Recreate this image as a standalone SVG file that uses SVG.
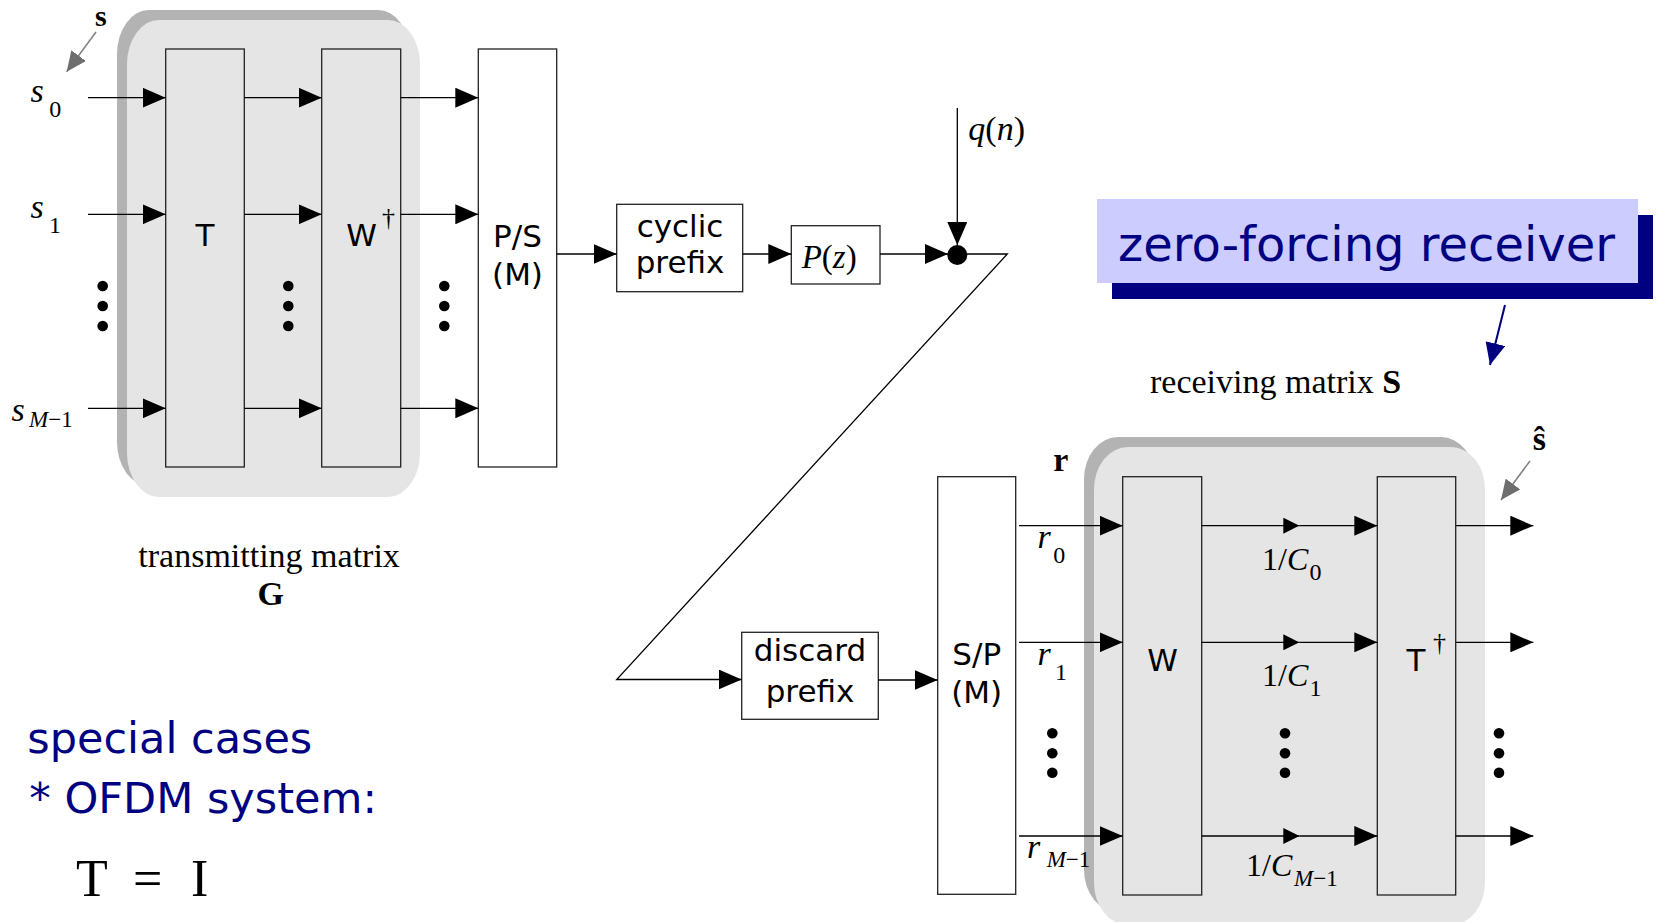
<svg xmlns="http://www.w3.org/2000/svg" width="1656" height="922" viewBox="0 0 1656 922">
<defs>
<style>
.shadow{fill:#b3b3b3}
.panel{fill:#e5e5e5}
.blk{fill:#e5e5e5;stroke:#222;stroke-width:1.3}
.wbox{fill:#fff;stroke:#222;stroke-width:1.3}
.ln{fill:none;stroke:#000;stroke-width:1.3}
.gln{fill:none;stroke:#808080;stroke-width:1.5}
.nln{fill:none;stroke:#000080;stroke-width:2}
.sans{font-family:"DejaVu Sans",sans-serif;font-size:31px;fill:#000}
.ser{font-family:"Liberation Serif",serif;fill:#000}
.lbl{font-size:34px;font-style:italic}
.sub{font-size:24px}
.subi{font-size:23px;font-style:italic}
.bold{font-weight:bold;font-size:34px}
.dag{font-size:26px}
.blue{font-family:"DejaVu Sans",sans-serif;fill:#000080}
.dot{fill:#000}
</style>
<marker id="ah" markerUnits="userSpaceOnUse" markerWidth="24" markerHeight="20" refX="23" refY="10" orient="auto"><path d="M0,0 L23,10 L0,20 z" fill="#000"/></marker>
<marker id="ahs" markerUnits="userSpaceOnUse" markerWidth="16" markerHeight="16" refX="16" refY="8" orient="auto"><path d="M0,0 L16,8 L0,16 z" fill="#000"/></marker>
<marker id="ahg" markerUnits="userSpaceOnUse" markerWidth="20" markerHeight="18" refX="20" refY="9" orient="auto"><path d="M0,0 L20,9 L0,18 z" fill="#6e6e6e"/></marker>
<marker id="ahn" markerUnits="userSpaceOnUse" markerWidth="22" markerHeight="20" refX="22" refY="10" orient="auto"><path d="M0,0 L22,10 L0,20 z" fill="#000080"/></marker>
</defs>
<rect width="1656" height="922" fill="#fff"/>

<g id="tx-matrix">
<rect class="shadow" x="117" y="10" width="293" height="476" rx="32" ry="44"/>
<rect class="panel" x="127" y="20" width="293" height="477" rx="32" ry="44"/>
</g>
<g id="rx-matrix">
<rect class="shadow" x="1084" y="437" width="391" height="475" rx="34" ry="42"/>
<rect class="panel" x="1094" y="447" width="391" height="478" rx="34" ry="42"/>
</g>

<g id="title">
<rect x="1112" y="215" width="541" height="84" fill="#000080"/>
<rect x="1097" y="199" width="541" height="84" fill="#ccccff"/>
<text class="blue" x="1118" y="261" font-size="48" textLength="497" lengthAdjust="spacingAndGlyphs">zero-forcing receiver</text>
</g>

<g id="node-T"><rect class="blk" x="165.7" y="49" width="78.6" height="418"/><text class="sans" x="205" y="246" text-anchor="middle">T</text></g>
<g id="node-Wdag"><rect class="blk" x="321.7" y="49" width="79" height="418"/><text class="sans" x="361.7" y="246" text-anchor="middle">W</text><text class="ser dag" x="382" y="226">†</text></g>
<g id="node-PS"><rect class="wbox" x="478.3" y="49" width="78.4" height="418"/><text class="sans" x="517.5" y="246.5" text-anchor="middle">P/S</text><text class="sans" x="517.5" y="285" text-anchor="middle">(M)</text></g>
<g id="node-cyclic"><rect class="wbox" x="616.7" y="204.3" width="126" height="87.4"/><text class="sans" x="680" y="236.7" text-anchor="middle">cyclic</text><text class="sans" x="680" y="273.3" text-anchor="middle">prefix</text></g>
<g id="node-Pz"><rect class="wbox" x="791.3" y="225.7" width="88.7" height="58.3"/><text class="ser" font-size="33" x="801.7" y="268.3"><tspan font-style="italic">P</tspan>(<tspan font-style="italic">z</tspan>)</text></g>
<g id="node-sum"><circle class="dot" cx="957.3" cy="255" r="10"/></g>
<g id="node-discard"><rect class="wbox" x="741.7" y="632.3" width="136.6" height="87"/><text class="sans" x="810" y="660.7" text-anchor="middle">discard</text><text class="sans" x="810" y="701.7" text-anchor="middle">prefix</text></g>
<g id="node-SP"><rect class="wbox" x="937.7" y="476.7" width="78" height="417.6"/><text class="sans" x="976.7" y="665" text-anchor="middle">S/P</text><text class="sans" x="976.7" y="703" text-anchor="middle">(M)</text></g>
<g id="node-W"><rect class="blk" x="1122.7" y="476.7" width="79" height="418.3"/><text class="sans" x="1162.7" y="670.7" text-anchor="middle">W</text></g>
<g id="node-Tdag"><rect class="blk" x="1377.3" y="476.7" width="78.4" height="418.3"/><text class="sans" x="1416" y="670.7" text-anchor="middle">T</text><text class="ser dag" x="1433" y="651">†</text></g>

<g id="connectors">
<line class="ln" x1="88" y1="97.7" x2="165.7" y2="97.7" marker-end="url(#ah)"/>
<line class="ln" x1="88" y1="214.3" x2="165.7" y2="214.3" marker-end="url(#ah)"/>
<line class="ln" x1="88" y1="408.3" x2="165.7" y2="408.3" marker-end="url(#ah)"/>
<line class="ln" x1="244.3" y1="97.7" x2="321.7" y2="97.7" marker-end="url(#ah)"/>
<line class="ln" x1="244.3" y1="214.3" x2="321.7" y2="214.3" marker-end="url(#ah)"/>
<line class="ln" x1="244.3" y1="408.3" x2="321.7" y2="408.3" marker-end="url(#ah)"/>
<line class="ln" x1="400.7" y1="97.7" x2="478.3" y2="97.7" marker-end="url(#ah)"/>
<line class="ln" x1="400.7" y1="214.3" x2="478.3" y2="214.3" marker-end="url(#ah)"/>
<line class="ln" x1="400.7" y1="408.3" x2="478.3" y2="408.3" marker-end="url(#ah)"/>
<line class="ln" x1="556.7" y1="254" x2="616.7" y2="254" marker-end="url(#ah)"/>
<line class="ln" x1="742.7" y1="254" x2="791.3" y2="254" marker-end="url(#ah)"/>
<line class="ln" x1="880" y1="254" x2="948" y2="254" marker-end="url(#ah)"/>
<line class="ln" x1="957.3" y1="108" x2="957.3" y2="245" marker-end="url(#ah)"/>
<polyline class="ln" points="957.3,254 1007.3,254 616.7,679.5 741.7,679.5" marker-end="url(#ah)"/>
<line class="ln" x1="878.3" y1="680" x2="937.7" y2="680" marker-end="url(#ah)"/>
<line class="ln" x1="1019" y1="525.7" x2="1122.7" y2="525.7" marker-end="url(#ah)"/>
<line class="ln" x1="1019" y1="642.3" x2="1122.7" y2="642.3" marker-end="url(#ah)"/>
<line class="ln" x1="1019" y1="836" x2="1122.7" y2="836" marker-end="url(#ah)"/>
<line class="ln" x1="1201.7" y1="525.7" x2="1299.3" y2="525.7" marker-end="url(#ahs)"/>
<line class="ln" x1="1201.7" y1="642.3" x2="1299.3" y2="642.3" marker-end="url(#ahs)"/>
<line class="ln" x1="1201.7" y1="836" x2="1299.3" y2="836" marker-end="url(#ahs)"/>
<line class="ln" x1="1299.3" y1="525.7" x2="1377.3" y2="525.7" marker-end="url(#ah)"/>
<line class="ln" x1="1299.3" y1="642.3" x2="1377.3" y2="642.3" marker-end="url(#ah)"/>
<line class="ln" x1="1299.3" y1="836" x2="1377.3" y2="836" marker-end="url(#ah)"/>
<line class="ln" x1="1455.7" y1="525.7" x2="1533.3" y2="525.7" marker-end="url(#ah)"/>
<line class="ln" x1="1455.7" y1="642.3" x2="1533.3" y2="642.3" marker-end="url(#ah)"/>
<line class="ln" x1="1455.7" y1="836" x2="1533.3" y2="836" marker-end="url(#ah)"/>
<line class="gln" x1="96" y1="32" x2="66.7" y2="71.7" marker-end="url(#ahg)"/>
<line class="gln" x1="1530" y1="461" x2="1501" y2="500" marker-end="url(#ahg)"/>
<line class="nln" x1="1505" y1="305" x2="1490" y2="365" marker-end="url(#ahn)"/>
</g>

<g id="ellipses">
<circle class="dot" cx="102.7" cy="286" r="5.3"/><circle class="dot" cx="102.7" cy="306" r="5.3"/><circle class="dot" cx="102.7" cy="326" r="5.3"/>
<circle class="dot" cx="288.3" cy="286" r="5.3"/><circle class="dot" cx="288.3" cy="306" r="5.3"/><circle class="dot" cx="288.3" cy="326" r="5.3"/>
<circle class="dot" cx="444.3" cy="286" r="5.3"/><circle class="dot" cx="444.3" cy="306" r="5.3"/><circle class="dot" cx="444.3" cy="326" r="5.3"/>
<circle class="dot" cx="1052.3" cy="733.3" r="5.3"/><circle class="dot" cx="1052.3" cy="753.3" r="5.3"/><circle class="dot" cx="1052.3" cy="772.7" r="5.3"/>
<circle class="dot" cx="1285" cy="733.3" r="5.3"/><circle class="dot" cx="1285" cy="753.3" r="5.3"/><circle class="dot" cx="1285" cy="772.7" r="5.3"/>
<circle class="dot" cx="1499" cy="733.3" r="5.3"/><circle class="dot" cx="1499" cy="753.3" r="5.3"/><circle class="dot" cx="1499" cy="772.7" r="5.3"/>
</g>

<g id="labels">
<text class="ser" font-weight="bold" font-size="30" x="95" y="26">s</text>
<text class="ser lbl" x="30.5" y="101.7">s</text><text class="ser sub" x="49.3" y="117.3">0</text>
<text class="ser lbl" x="30.5" y="218.3">s</text><text class="ser sub" x="49" y="233.3">1</text>
<text class="ser lbl" x="11.5" y="420.7">s</text><text class="ser subi" x="29" y="427.3">M<tspan font-style="normal">−1</tspan></text>
<text class="ser lbl" x="968.3" y="140"><tspan>q</tspan><tspan font-style="normal">(</tspan>n<tspan font-style="normal">)</tspan></text>
<text class="ser bold" x="1053.3" y="471">r</text>
<text class="ser lbl" x="1037.5" y="548">r</text><text class="ser sub" x="1053.3" y="563">0</text>
<text class="ser lbl" x="1037.5" y="665">r</text><text class="ser sub" x="1055" y="680">1</text>
<text class="ser lbl" x="1027" y="858">r</text><text class="ser subi" x="1046.7" y="867">M<tspan font-style="normal">−1</tspan></text>
<text class="ser" font-size="32" x="1262" y="570">1/<tspan font-style="italic">C</tspan></text><text class="ser sub" x="1309.5" y="580">0</text>
<text class="ser" font-size="32" x="1262" y="686">1/<tspan font-style="italic">C</tspan></text><text class="ser sub" x="1309.5" y="696">1</text>
<text class="ser" font-size="32" x="1246" y="876">1/<tspan font-style="italic">C</tspan></text><text class="ser subi" x="1294" y="886">M<tspan font-style="normal">−1</tspan></text>
<text class="ser bold" x="1532.7" y="450">ŝ</text>
<text class="ser" font-size="34" x="138.3" y="566.7">transmitting matrix</text>
<text class="ser bold" x="270.7" y="605" text-anchor="middle">G</text>
<text class="ser" font-size="34" x="1150" y="393">receiving matrix <tspan font-weight="bold">S</tspan></text>
<text class="blue" font-size="43" x="27.3" y="753.3">special cases</text>
<text class="blue" font-size="43" x="29.3" y="812.7">* OFDM system:</text>
<text class="ser" font-size="52" y="896"><tspan x="76">T</tspan><tspan x="133">=</tspan><tspan x="191">I</tspan></text>
</g>
</svg>
